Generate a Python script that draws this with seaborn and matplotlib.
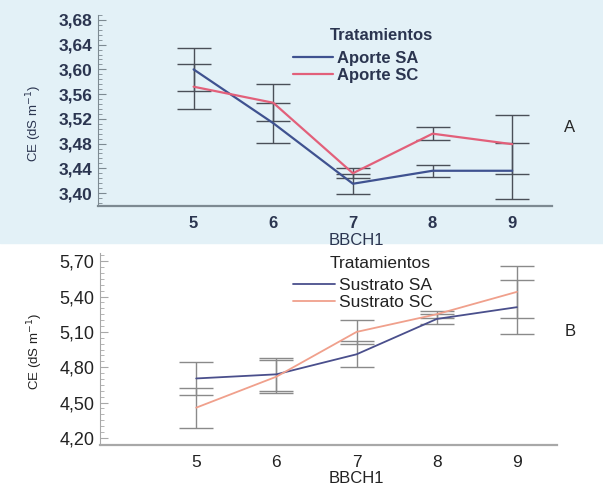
import numpy as np
import pandas as pd
import matplotlib
matplotlib.use("Agg")
import matplotlib.pyplot as plt
import seaborn as sns
from matplotlib.ticker import AutoMinorLocator, FixedLocator
from matplotlib.patches import Rectangle

# ---- data ----
bbch = [5, 6, 7, 8, 9]

aporte_sa = [3.600, 3.513, 3.415, 3.436, 3.436]
aporte_sa_err = [0.035, 0.032, 0.016, 0.010, 0.045]
aporte_sc = [3.572, 3.546, 3.432, 3.496, 3.479]
aporte_sc_err = [0.036, 0.030, 0.008, 0.010, 0.048]

sustrato_sa = [4.705, 4.74, 4.91, 5.21, 5.31]
sustrato_sa_err = [0.14, 0.14, 0.11, 0.04, 0.23]
sustrato_sc = [4.457, 4.72, 5.10, 5.25, 5.44]
sustrato_sc_err = [0.17, 0.14, 0.10, 0.03, 0.22]

yticks_a = [3.40, 3.44, 3.48, 3.52, 3.56, 3.60, 3.64, 3.68]
yticks_b = [4.20, 4.50, 4.80, 5.10, 5.40, 5.70]

sns.set_style("white")
plt.rcParams["font.family"] = ["Liberation Sans", "DejaVu Sans"]

fig = plt.figure(figsize=(6.03, 4.90), dpi=100)
# scanned page tint behind the top panel
fig.patches.append(Rectangle((0, 0.505), 1, 0.495, transform=fig.transFigure,
                             color="#e3f1f7", zorder=-10))

axA = fig.add_axes([0.1625, 0.5796, 0.7530, 0.3898])
axB = fig.add_axes([0.1658, 0.0918, 0.7579, 0.3919])


def panel(ax, sa, sa_err, sc, sc_err, names, colors, ecolor, yticks, ylim,
          nminor, ysize, xsize, bold, spine_col, leg_y, leg_size, txt_col, lw):
    df = pd.DataFrame({
        "BBCH1": bbch * 2,
        "CE": sa + sc,
        "Tratamientos": [names[0]] * len(bbch) + [names[1]] * len(bbch),
    })
    ax.set_facecolor("none")
    for y, e in ((sa, sa_err), (sc, sc_err)):
        ax.errorbar(bbch, y, yerr=e, fmt="none", ecolor=ecolor, elinewidth=1.0,
                    capsize=12, capthick=1.0, zorder=1)
    sns.lineplot(data=df, x="BBCH1", y="CE", hue="Tratamientos",
                 palette=dict(zip(names, colors)), linewidth=lw, ax=ax,
                 zorder=3)
    ax.set_xlim(3.8, 9.5)
    ax.set_ylim(*ylim)
    ax.set_xticks(bbch)
    ax.set_xticklabels([str(b) for b in bbch], fontsize=xsize, color=txt_col,
                       fontweight=bold)
    ax.yaxis.set_major_locator(FixedLocator(yticks))
    ax.set_yticklabels([f"{t:.2f}".replace(".", ",") for t in yticks],
                       fontsize=ysize, color=txt_col, fontweight=bold)
    ax.yaxis.set_minor_locator(AutoMinorLocator(nminor))
    ax.tick_params(axis="y", which="major", direction="in", length=6,
                   width=0.8, color=spine_col, pad=4, left=True)
    ax.tick_params(axis="y", which="minor", direction="in", length=3,
                   width=0.6, color=spine_col, left=True)
    ax.tick_params(axis="x", length=0, pad=7)
    for s in ("top", "right"):
        ax.spines[s].set_visible(False)
    ax.spines["left"].set_color(spine_col)
    ax.spines["left"].set_linewidth(0.8)
    ax.spines["bottom"].set_color(spine_col)
    ax.spines["bottom"].set_linewidth(1.6)
    ax.set_xlabel("BBCH1", fontsize=12, color=txt_col)
    ax.set_ylabel("CE (dS m$^{-1}$)", fontsize=9.5, color=txt_col)
    leg = ax.legend(loc="center left",
                    bbox_to_anchor=(293 / 603, 1 - leg_y / 490),
                    bbox_transform=fig.transFigure,
                    frameon=False, prop={"size": leg_size, "weight": bold},
                    handlelength=2.4, handletextpad=0.25, labelspacing=0.1,
                    borderpad=0, borderaxespad=0)
    for t in leg.get_texts():
        t.set_color(txt_col)
    # legend heading sits over the entry texts
    fig.text(330 / 603, 1 - (leg_y - 31) / 490, "Tratamientos",
             fontsize=leg_size, fontweight=bold, color=txt_col,
             ha="left", va="center")
    return ax


panel(axA, aporte_sa, aporte_sa_err, aporte_sc, aporte_sc_err,
      ["Aporte SA", "Aporte SC"], ["#3f5290", "#e2607a"], "#4a4f58",
      yticks_a, (3.379, 3.688), 5, 12.5, 12, "bold", "#7d8a92",
      67, 12, "#2b3550", 1.6)
axA.xaxis.set_label_coords(0.57, -0.142)
axA.yaxis.set_label_coords(-0.118, 0.43)

panel(axB, sustrato_sa, sustrato_sa_err, sustrato_sc, sustrato_sc_err,
      ["Sustrato SA", "Sustrato SC"], ["#4a4f8c", "#f0a08c"], "#8a8a8a",
      yticks_b, (4.14, 5.77), 6, 13, 12.5, "normal", "#a8a8a8",
      294, 12.5, "#222222", 1.3)
axB.xaxis.set_label_coords(0.562, -0.136)
axB.yaxis.set_label_coords(-0.12, 0.49)

fig.text(570 / 603, 1 - 127 / 490, "A", fontsize=12, ha="center", va="center")
fig.text(570 / 603, 1 - 331 / 490, "B", fontsize=12, ha="center", va="center",
         color="#222222")

fig.savefig("out.png", dpi=100)
